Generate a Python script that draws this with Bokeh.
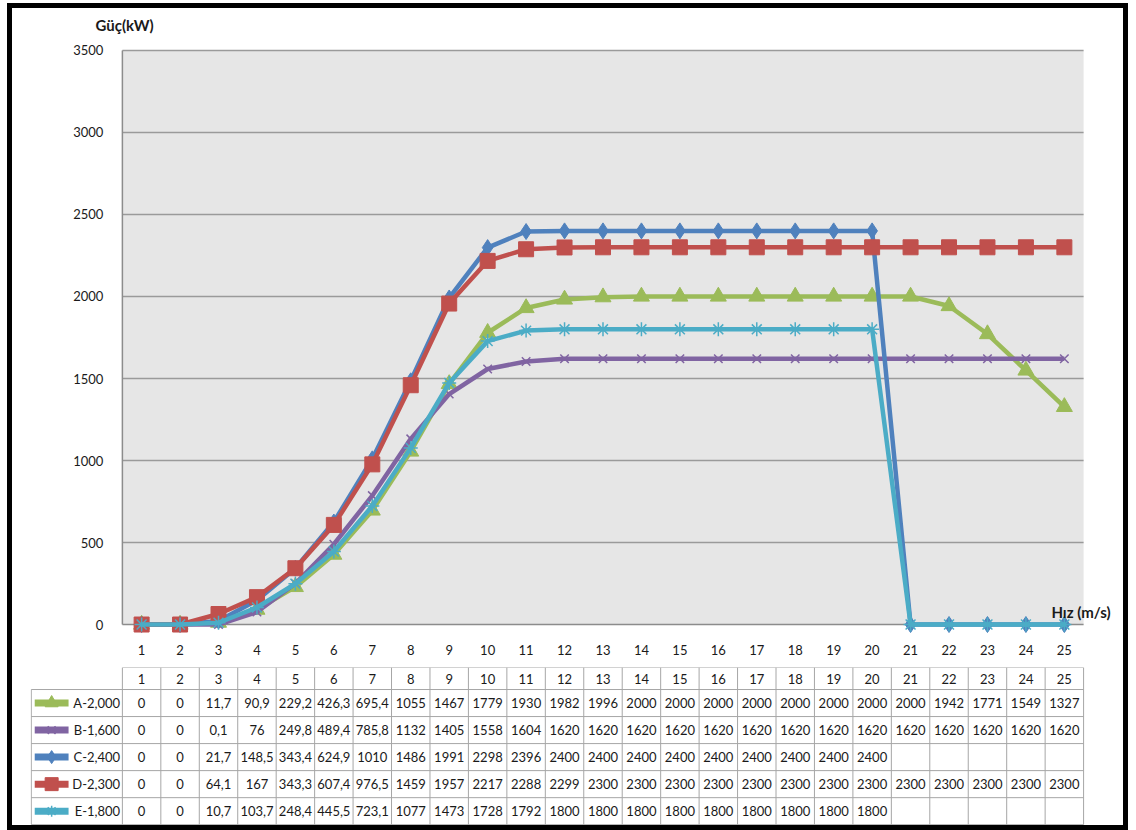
from bokeh.plotting import figure
from bokeh.layouts import column
from bokeh.models import Range1d, FixedTicker, Label
from bokeh.embed import file_html
from bokeh.resources import INLINE

# ---------------- DATA ----------------
speeds = list(range(1, 26))
series_names = ["A-2,000", "B-1,600", "C-2,400", "D-2,300", "E-1,800"]
A = [0, 0, 11.7, 90.9, 229.2, 426.3, 695.4, 1055, 1467, 1779, 1930, 1982, 1996,
     2000, 2000, 2000, 2000, 2000, 2000, 2000, 2000, 1942, 1771, 1549, 1327]
B = [0, 0, 0.1, 76, 249.8, 489.4, 785.8, 1132, 1405, 1558, 1604, 1620, 1620,
     1620, 1620, 1620, 1620, 1620, 1620, 1620, 1620, 1620, 1620, 1620, 1620]
C = [0, 0, 21.7, 148.5, 343.4, 624.9, 1010, 1486, 1991, 2298, 2396, 2400, 2400,
     2400, 2400, 2400, 2400, 2400, 2400, 2400, None, None, None, None, None]
D = [0, 0, 64.1, 167, 343.3, 607.4, 976.5, 1459, 1957, 2217, 2288, 2299, 2300,
     2300, 2300, 2300, 2300, 2300, 2300, 2300, 2300, 2300, 2300, 2300, 2300]
E = [0, 0, 10.7, 103.7, 248.4, 445.5, 723.1, 1077, 1473, 1728, 1792, 1800, 1800,
     1800, 1800, 1800, 1800, 1800, 1800, 1800, None, None, None, None, None]
y_ticks = [0, 500, 1000, 1500, 2000, 2500, 3000, 3500]
y_title = "Güç(kW)"
x_title = "Hız (m/s)"

series = [A, B, C, D, E]
colors = ["#9BBB59", "#8064A2", "#4F81BD", "#C0504D", "#4BACC6"]
markers = ["triangle", "x", "diamond", "square", "asterisk"]
msizes = [16, 12, 16, 15, 14]

FONT = "Lato"
TXT = "#1a1a1a"
W = 1111
H1 = 652
H2 = 165
X0, X1 = 0.5, 25.5
Y0, Y1 = 0, 3500
XR = Range1d(-1.89, 26.33)   # shared: table legend column on the left, label room on the right

# ---------------- CHART ----------------
p = figure(width=W, height=H1, x_range=XR, y_range=Range1d(-73, 3573),
           output_backend="svg", toolbar_location=None, title=y_title,
           min_border_left=18, min_border_right=8, min_border_top=30, min_border_bottom=24)
p.title.align = "left"
p.title.offset = 65
p.title.text_font = FONT
p.title.text_font_size = "15px"
p.title.text_font_style = "bold"
p.title.text_color = TXT
p.title.standoff = 10
p.background_fill_color = "white"
p.border_fill_color = "white"
p.outline_line_color = None
p.grid.visible = False
p.xaxis.ticker = FixedTicker(ticks=speeds)
p.yaxis.ticker = FixedTicker(ticks=y_ticks)
p.yaxis.fixed_location = X0
for ax in (p.xaxis, p.yaxis):
    ax.major_tick_line_color = None
    ax.minor_tick_line_color = None
    ax.axis_line_color = None
    ax.major_label_text_font = FONT
    ax.major_label_text_font_size = "13px"
    ax.major_label_text_color = TXT
p.xaxis.major_label_standoff = 2
p.yaxis.major_label_standoff = 13

# plot area background, gridlines and axis lines
p.quad(left=[X0], right=[X1], bottom=[Y0], top=[Y1], fill_color="#e6e6e6", line_color=None)
gy = y_ticks[1:]
p.segment(x0=[X0] * len(gy), y0=gy, x1=[X1] * len(gy), y1=gy,
          line_color="#9a9a9a", line_width=1.5)
p.segment(x0=[X0, X0], y0=[Y0, Y0], x1=[X0, X1], y1=[Y1, Y0],
          line_color="#8c8c8c", line_width=1.5)

for vals, col, mk, ms in zip(series, colors, markers, msizes):
    yv = [v if v is not None else 0 for v in vals]
    p.line(speeds, yv, line_color=col, line_width=4.5)
    if mk in ("x", "asterisk"):
        p.scatter(speeds, yv, marker=mk, size=ms, line_color=col, line_width=1.5)
    else:
        p.scatter(speeds, yv, marker=mk, size=ms, fill_color=col, line_color=col)

p.add_layout(Label(x=X1, y=Y0, x_offset=27, y_offset=4, text=x_title,
                   text_font=FONT, text_font_style="bold", text_font_size="15px",
                   text_color=TXT, text_baseline="bottom", text_align="right"))

# ---------------- TABLE ----------------
hdr = 22 / 27.0
t = figure(width=W, height=H2, x_range=XR, y_range=Range1d(5.03, -hdr),
           output_backend="svg", toolbar_location=None,
           min_border_left=18, min_border_right=8, min_border_top=7, min_border_bottom=0)
t.axis.visible = False
t.grid.visible = False
t.outline_line_color = None
t.background_fill_color = "white"
t.border_fill_color = "white"

gc = "#a6a6a6"
t.segment(x0=[0.5], y0=[-hdr], x1=[25.5], y1=[-hdr], line_color=gc, line_width=1)
rows = list(range(0, 6))
t.segment(x0=[-1.87] * len(rows), y0=rows, x1=[25.5] * len(rows), y1=rows,
          line_color=gc, line_width=1)
vx = [i + 0.5 for i in range(0, 26)]
t.segment(x0=vx, y0=[-hdr] * len(vx), x1=vx, y1=[5] * len(vx), line_color=gc, line_width=1)
t.segment(x0=[-1.87], y0=[0], x1=[-1.87], y1=[5], line_color=gc, line_width=1)

def fmt(v):
    if v is None:
        return ""
    if float(v).is_integer():
        return str(int(v))
    return ("%g" % v).replace(".", ",")

t.text(x=speeds, y=[-hdr / 2] * 25, text=[str(s) for s in speeds], text_align="center",
       text_baseline="middle", text_font={"value": FONT}, text_font_size="13px",
       text_color=TXT)
for r, (vals, col, mk, name) in enumerate(zip(series, colors, markers, series_names)):
    t.text(x=speeds, y=[r + 0.5] * 25, text=[fmt(v) for v in vals], text_align="center",
           text_baseline="middle", text_font={"value": FONT}, text_font_size="13px",
           text_color=TXT)
    t.line([-1.78, -0.9], [r + 0.5, r + 0.5], line_color=col, line_width=7)
    if mk in ("x", "asterisk"):
        t.scatter([-1.34], [r + 0.5], marker=mk, size=11, line_color=col, line_width=1.5)
    else:
        t.scatter([-1.34], [r + 0.5], marker=mk, size=13, fill_color=col, line_color=col)
    t.text(x=[0.44], y=[r + 0.5], text=[name], text_align="right", text_baseline="middle",
           text_font={"value": FONT}, text_font_size="13px", text_color=TXT)

layout = column(p, t, spacing=0,
                styles={"border": "5px solid black", "background": "white",
                        "margin-left": "7px", "margin-top": "3px"})
open("out.html", "w").write(file_html(layout, INLINE))
